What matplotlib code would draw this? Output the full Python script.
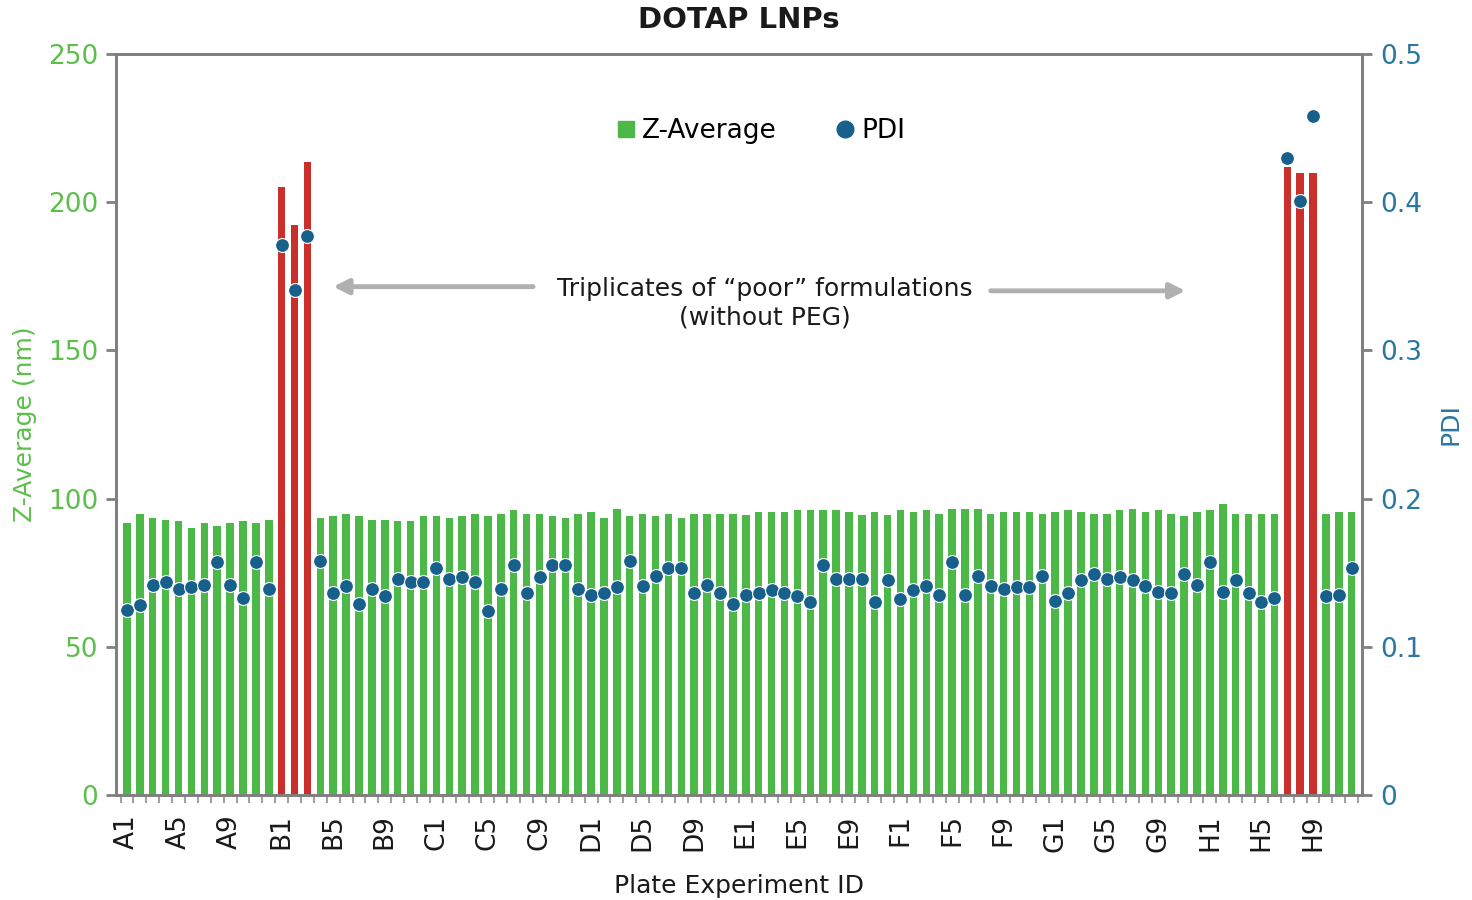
import matplotlib.pyplot as plt
from matplotlib.lines import Line2D
import numpy as np

plt.rcParams['font.family'] = ['DejaVu Sans']

rows = ['A', 'B', 'C', 'D', 'E', 'F', 'G', 'H']
wells = [r + str(c) for r in rows for c in range(1, 13)]

z_average = [
    91.7, 94.7, 93.4, 92.9, 92.3, 90.1, 91.7, 90.6, 91.7, 92.3, 91.7, 92.9,
    205.0, 192.4, 213.6, 93.4, 94.0, 94.7, 94.0, 92.9, 92.9, 92.3, 92.3, 94.0,
    94.0, 93.4, 94.0, 94.7, 94.0, 94.7, 96.0, 94.7, 94.7, 94.0, 93.4, 94.7,
    95.5, 93.4, 96.6, 94.0, 94.9, 94.0, 94.7, 93.4, 94.7, 94.9, 94.9, 94.9,
    94.3, 95.5, 95.5, 95.5, 96.0, 96.0, 96.0, 96.0, 95.5, 94.3, 95.5, 94.3,
    96.0, 95.5, 96.0, 94.9, 96.6, 96.6, 96.6, 94.9, 95.5, 95.5, 95.5, 94.9,
    95.5, 96.0, 95.5, 94.9, 94.9, 96.0, 96.6, 95.5, 96.0, 94.9, 94.0, 95.5,
    96.0, 98.3, 94.9, 94.9, 94.9, 94.9, 211.9, 210.0, 210.0, 94.9, 95.5, 95.5,
]

pdi = [
    .125, .128, .142, .144, .139, .140, .142, .157, .142, .133, .157, .139,
    .371, .341, .377, .158, .136, .141, .129, .139, .134, .146, .144, .144,
    .153, .146, .147, .144, .124, .139, .155, .136, .147, .155, .155, .139,
    .135, .136, .140, .158, .141, .148, .153, .153, .136, .142, .136, .129,
    .135, .136, .138, .136, .134, .130, .155, .146, .146, .146, .130, .145,
    .132, .138, .141, .135, .157, .135, .148, .141, .139, .140, .140, .148,
    .131, .136, .145, .149, .146, .147, .145, .141, .137, .136, .149, .142,
    .157, .137, .145, .136, .130, .133, .430, .401, .458, .134, .135, .153,
]

poor = ['B1', 'B2', 'B3', 'H7', 'H8', 'H9']

GREEN = '#4cb848'
RED = '#c9302c'
BLUE = '#18608c'
GREEN_TXT = '#5cbf4b'
BLUE_TXT = '#2a77a0'
GRAY = '#808080'
TXT = '#1a1a1a'

x = np.arange(len(wells))
colors = [RED if w in poor else GREEN for w in wells]

fig = plt.figure(figsize=(14.72, 9), dpi=100)
ax = fig.add_axes((0.0788, 0.1167, 0.8465, 0.8233))
ax.bar(x, z_average, width=0.58, color=colors, zorder=2)
ax.set_xlim(-0.85, 95.8)
ax.set_ylim(0, 250)
ax.set_yticks([0, 50, 100, 150, 200, 250])

ax2 = ax.twinx()
ax2.plot(x, pdi, 'o', color=BLUE, markersize=10, markeredgecolor='white',
         markeredgewidth=0.8, zorder=3)
ax2.set_ylim(0, 0.5)
ax2.set_yticks([0, 0.1, 0.2, 0.3, 0.4, 0.5])
ax2.set_yticklabels(['0', '0.1', '0.2', '0.3', '0.4', '0.5'])

for a in (ax, ax2):
    for s in a.spines.values():
        s.set_color(GRAY)
        s.set_linewidth(2)
ax.tick_params(axis='y', colors=GRAY, labelcolor=GREEN_TXT, labelsize=19,
               length=7, width=2, pad=6)
ax2.tick_params(axis='y', colors=GRAY, labelcolor=BLUE_TXT, labelsize=19,
                length=7, width=2, pad=6)

ax.set_xticks(x[::4])
ax.set_xticklabels(wells[::4], rotation=90)
ax.set_xticks(np.arange(-0.5, 96, 1), minor=True)
ax.tick_params(axis='x', which='major', length=0, labelsize=19, pad=14,
               labelcolor=TXT)
ax.tick_params(axis='x', which='minor', length=6, width=1.5, colors='#a0a0a0')

ax.set_ylabel('Z-Average (nm)', color=GREEN_TXT, fontsize=18, labelpad=8)
ax2.set_ylabel('PDI', color=BLUE_TXT, fontsize=18, labelpad=12)
ax.set_xlabel('Plate Experiment ID', fontsize=18, color=TXT, labelpad=16)
ax.set_title('DOTAP LNPs', fontsize=21, fontweight='bold', color=TXT, pad=19)

handles = [
    Line2D([], [], marker='s', linestyle='', color=GREEN, markersize=12),
    Line2D([], [], marker='o', linestyle='', color=BLUE, markersize=12),
]
ax2.legend(handles, ['Z-Average', 'PDI'], loc='center', ncol=2, frameon=False,
           bbox_to_anchor=(0.517, 0.896), fontsize=19, handletextpad=0.2,
           columnspacing=2.2, handlelength=0.8)

ax.text(49.5, 166, 'Triplicates of \u201cpoor\u201d formulations\n(without PEG)',
        ha='center', va='center', fontsize=18, color=TXT,
        linespacing=1.25, zorder=4)
arrow = dict(arrowstyle='-|>,head_length=0.9,head_width=0.45', color='#b0b0b0',
             lw=3.5, shrinkA=0, shrinkB=0)
ax.annotate('', xy=(16.0, 171.5), xytext=(31.5, 171.5), arrowprops=arrow)
ax.annotate('', xy=(82.1, 170.1), xytext=(67.0, 170.1), arrowprops=arrow)

fig.savefig('out.png', dpi=100)
